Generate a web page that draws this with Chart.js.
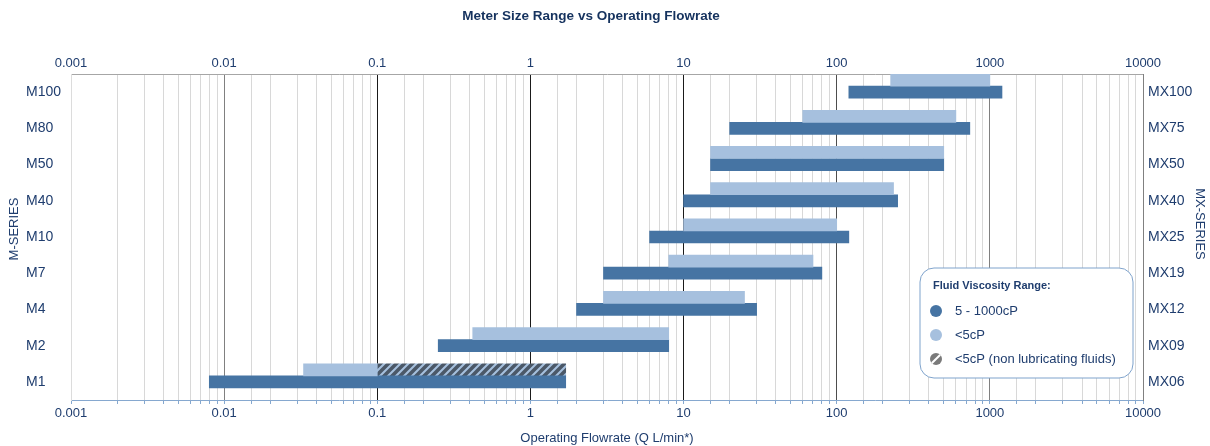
<!DOCTYPE html>
<html>
<head>
<meta charset="utf-8">
<title>Meter Size Range vs Operating Flowrate</title>
<script src="https://cdn.jsdelivr.net/npm/chart.js@4.4.1/dist/chart.umd.min.js"></script>
<style>
  html, body { margin: 0; padding: 0; background: #ffffff; }
  #wrap { width: 1210px; height: 446px; }
</style>
</head>
<body>
<div id="wrap"><canvas id="flowChart" width="1210" height="446"></canvas></div>
<script>
// Meter sizes (left = M-series, right = MX-series), top to bottom
const mSeries = ['M100', 'M80', 'M50', 'M40', 'M10', 'M7', 'M4', 'M2', 'M1'];
const mxSeries = ['MX100', 'MX75', 'MX50', 'MX40', 'MX25', 'MX19', 'MX12', 'MX09', 'MX06'];

// Flow ranges in L/min, [from, to]
const viscousRange = [[120, 1200], [20, 740], [15, 500], [10, 250], [6, 120], [3, 80], [2, 30], [0.25, 8], [0.008, 1.7]];
const thinRange = [[225, 1000], [60, 600], [15, 500], [15, 235], [10, 100], [8, 70], [3, 25], [0.42, 8], [0.033, 0.1]];
const nonLubeRange = [null, null, null, null, null, null, null, null, [0.1, 1.7]];

const flowMin = 0.001;
const flowMax = 10000;

const NAVY = '#1f3d6e';
const DARK_BLUE = '#4674a3';
const LIGHT_BLUE = '#a6c0de';
const FONT = "'Liberation Sans', Arial, sans-serif";

function isDecade(v) {
    const l = Math.log10(v);
    return Math.abs(l - Math.round(l)) < 1e-9;
}

function decadeLabel(v) {
    return Number(v.toPrecision(1)).toString();
}

// colour of the vertical grid line at each tick
function gridColor(ctx) {
    const v = ctx.tick && ctx.tick.value;
    if (!v || !isDecade(v)) return '#d8d8d8';
    const p = Math.round(Math.log10(v));
    if (p <= -3) return '#dcdcdc';
    if (p === -2 || p >= 3) return '#808080';
    if (p === 2) return '#4d4d4d';
    return '#1a1a1a';
}

// diagonal hatch for the non lubricating range
function makeHatch() {
    const c = document.createElement('canvas');
    c.width = 8;
    c.height = 8;
    const g = c.getContext('2d');
    g.fillStyle = LIGHT_BLUE;
    g.fillRect(0, 0, 8, 8);
    g.strokeStyle = '#4b5868';
    g.lineWidth = 3.6;
    g.beginPath();
    g.moveTo(-4, 4); g.lineTo(4, -4);
    g.moveTo(0, 8); g.lineTo(8, 0);
    g.moveTo(4, 12); g.lineTo(12, 4);
    g.stroke();
    return g.createPattern(c, 'repeat');
}

const hatch = makeHatch();

function roundRect(ctx, x, y, w, h, r) {
    ctx.beginPath();
    ctx.moveTo(x + r, y);
    ctx.arcTo(x + w, y, x + w, y + h, r);
    ctx.arcTo(x + w, y + h, x, y + h, r);
    ctx.arcTo(x, y + h, x, y, r);
    ctx.arcTo(x, y, x + w, y, r);
    ctx.closePath();
}

// chart title and rotated series titles at both sides
const chartTexts = {
    id: 'chartTexts',
    afterDraw(chart) {
        const ctx = chart.ctx;
        ctx.save();
        ctx.fillStyle = '#15325e';
        ctx.textAlign = 'center';
        ctx.textBaseline = 'middle';
        ctx.font = 'bold 13.5px ' + FONT;
        ctx.fillText('Meter Size Range vs Operating Flowrate', 591, 16);

        ctx.fillStyle = NAVY;
        ctx.font = '13px ' + FONT;

        ctx.save();
        ctx.translate(14, 229);
        ctx.rotate(-Math.PI / 2);
        ctx.fillText('M-SERIES', 0, 0);
        ctx.restore();

        ctx.save();
        ctx.translate(chart.width - 10, 224);
        ctx.rotate(Math.PI / 2);
        ctx.fillText('MX-SERIES', 0, 0);
        ctx.restore();

        ctx.restore();
    }
};

// legend drawn inside the plot, bottom right
const legendBox = {
    id: 'legendBox',
    afterDraw(chart) {
        const ctx = chart.ctx;
        const area = chart.chartArea;
        const w = 213, h = 110;
        const x = area.right - 10 - w;
        const y = area.bottom - 22 - h;

        ctx.save();
        roundRect(ctx, x, y, w, h, 14);
        ctx.fillStyle = '#ffffff';
        ctx.fill();
        ctx.strokeStyle = '#7fa3cc';
        ctx.lineWidth = 1;
        ctx.stroke();

        ctx.fillStyle = NAVY;
        ctx.textBaseline = 'middle';
        ctx.font = 'bold 11px ' + FONT;
        ctx.fillText('Fluid Viscosity Range:', x + 13, y + 18);

        const items = [chart.data.datasets[1], chart.data.datasets[0], chart.data.datasets[2]];
        items.forEach(function(ds, i) {
            const cy = y + 43 + i * 24;
            const cx = x + 16;
            ctx.beginPath();
            ctx.arc(cx, cy, 6, 0, Math.PI * 2);
            if (i === 2) {
                ctx.fillStyle = '#7a7a7a';
                ctx.fill();
                ctx.save();
                ctx.clip();
                ctx.strokeStyle = '#ffffff';
                ctx.lineWidth = 2;
                ctx.beginPath();
                ctx.moveTo(cx - 6, cy + 6);
                ctx.lineTo(cx + 6, cy - 6);
                ctx.stroke();
                ctx.restore();
            } else {
                ctx.fillStyle = ds.backgroundColor;
                ctx.fill();
            }
            ctx.fillStyle = NAVY;
            ctx.font = '13px ' + FONT;
            ctx.fillText(ds.label, x + 35, cy);
        });
        ctx.restore();
    }
};

new Chart(document.getElementById('flowChart'), {
    type: 'bar',
    data: {
        labels: mSeries,
        datasets: [
            {
                label: '<5cP',
                data: thinRange,
                backgroundColor: LIGHT_BLUE,
                stack: 'thin'
            },
            {
                label: '5 - 1000cP',
                data: viscousRange,
                backgroundColor: DARK_BLUE,
                stack: 'viscous'
            },
            {
                label: '<5cP (non lubricating fluids)',
                data: nonLubeRange,
                backgroundColor: hatch,
                stack: 'thin'
            },
            {
                // empty slot so the pair sits in the upper part of each row
                label: '',
                data: [],
                stack: 'spacer'
            }
        ]
    },
    options: {
        indexAxis: 'y',
        responsive: false,
        animation: false,
        categoryPercentage: 1,
        barPercentage: 1,
        layout: { padding: { left: 26, top: 37 } },
        plugins: {
            legend: { display: false },
            tooltip: { enabled: false }
        },
        scales: {
            x: {
                type: 'logarithmic',
                position: 'bottom',
                min: flowMin,
                max: flowMax,
                stacked: false,
                afterFit: function(s) { s.height = 46; },
                grid: {
                    color: gridColor,
                    tickColor: '#86a8cf',
                    tickLength: 4
                },
                border: { color: '#86a8cf' },
                ticks: {
                    autoSkip: false,
                    maxRotation: 0,
                    color: NAVY,
                    font: { family: FONT, size: 13 },
                    padding: 2,
                    callback: function(v) { return isDecade(v) ? decadeLabel(v) : ''; }
                },
                title: {
                    display: true,
                    text: 'Operating Flowrate (Q L/min*)',
                    color: NAVY,
                    font: { family: FONT, size: 13 },
                    padding: { top: 2, bottom: 0 }
                }
            },
            x2: {
                type: 'logarithmic',
                position: 'top',
                min: flowMin,
                max: flowMax,
                afterFit: function(s) { s.height = 37; },
                grid: { display: false, drawTicks: false },
                border: { display: true, color: '#a6a6a6' },
                ticks: {
                    autoSkip: false,
                    maxRotation: 0,
                    color: NAVY,
                    font: { family: FONT, size: 13 },
                    padding: 3,
                    callback: function(v) { return isDecade(v) ? decadeLabel(v) : ''; }
                }
            },
            y: {
                type: 'category',
                position: 'left',
                afterFit: function(s) { s.width = 45; },
                grid: { display: false, drawTicks: false },
                border: { color: '#dcdcdc' },
                ticks: {
                    color: NAVY,
                    font: { family: FONT, size: 14 },
                    crossAlign: 'far',
                    padding: 4
                }
            },
            y2: {
                type: 'category',
                position: 'right',
                labels: mxSeries,
                afterFit: function(s) { s.width = 67; },
                grid: { display: false, drawTicks: false },
                border: { color: '#808080' },
                ticks: {
                    color: NAVY,
                    font: { family: FONT, size: 14 },
                    padding: 5
                }
            }
        }
    },
    plugins: [legendBox, chartTexts]
});
</script>
</body>
</html>
